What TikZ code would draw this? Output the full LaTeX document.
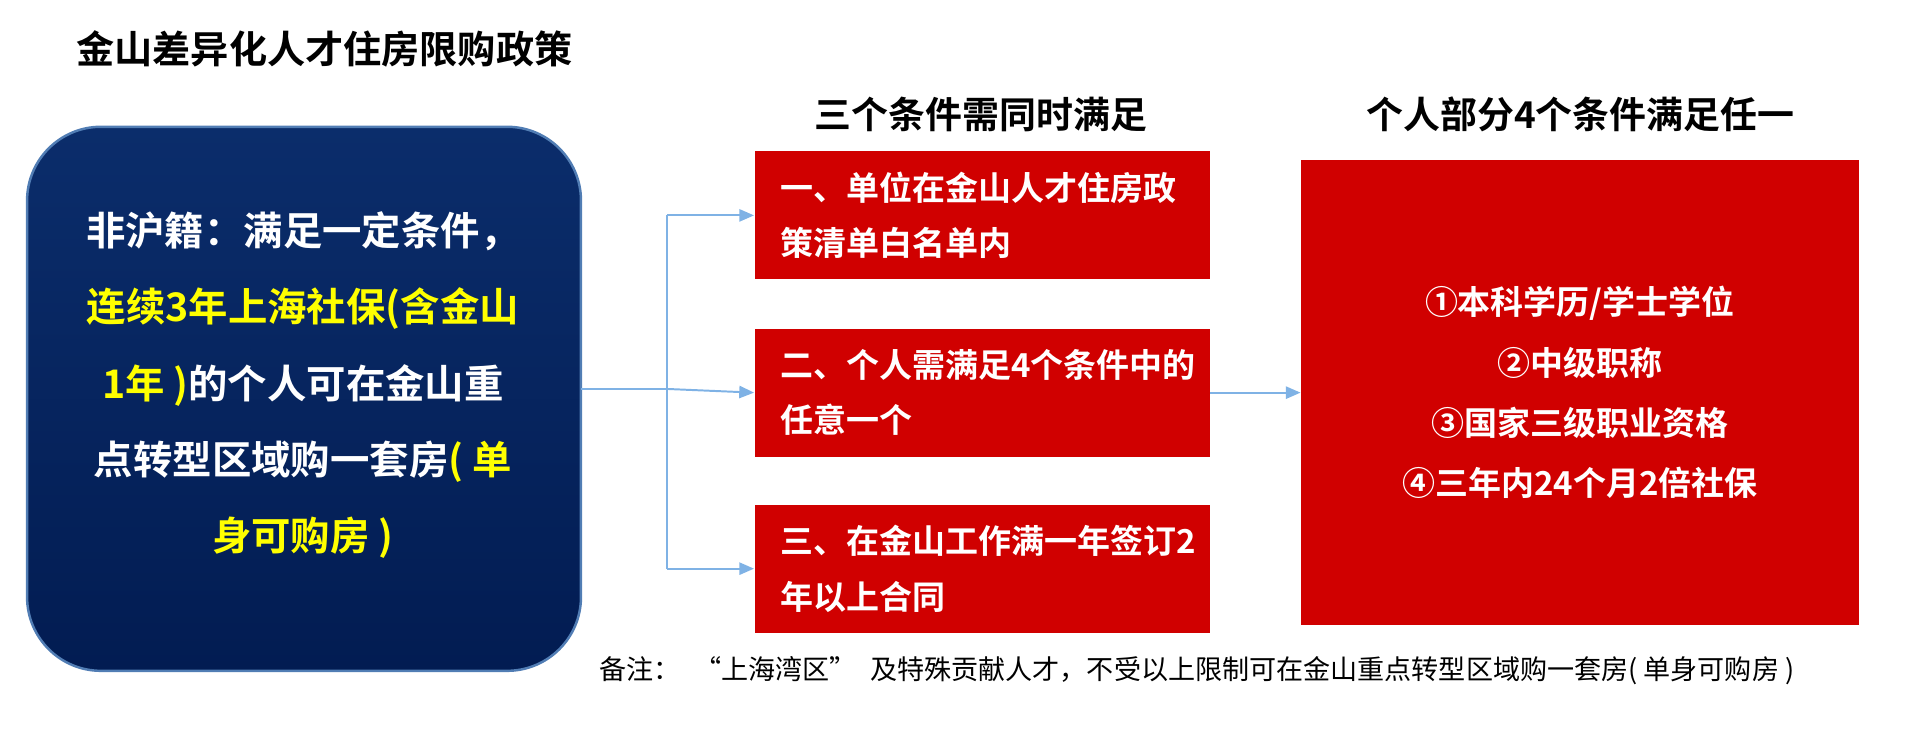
\documentclass[tikz,border=0pt]{standalone}
\usepackage{fontspec}
\setmainfont{Noto Sans CJK SC}[BoldFont={Noto Sans CJK SC Bold}]
\usetikzlibrary{arrows.meta}
\definecolor{navyA}{HTML}{0B2D6B}
\definecolor{navyB}{HTML}{021C52}
\definecolor{redbox}{HTML}{D00000}
\definecolor{lineblue}{HTML}{7FB2E5}
\definecolor{yel}{HTML}{FFFF00}
\begin{document}
\begin{tikzpicture}[x={(0.5pt,0)},y={(0,-0.5pt)},
  redb/.style={fill=redbox,draw=none,text=white,font=\bfseries\fontsize{13.4pt}{22.5pt}\selectfont},
  conn/.style={draw=lineblue,line width=0.8pt},
  arr/.style={conn,-{Triangle[length=6pt,width=5pt]}},
  hdr/.style={font=\bfseries\fontsize{15pt}{18pt}\selectfont}]
\useasboundingbox (0,0) rectangle (1568,604);
\node[anchor=west,font=\bfseries\fontsize{15.5pt}{18pt}\selectfont] (title) at (55,40) {金山差异化人才住房限购政策};
\shade[top color=navyA,bottom color=navyB,draw=lineblue!60!navyA,line width=1pt,rounded corners=30pt] (22,103) rectangle (472,545);
\coordinate (lb) at (472,316);
\node[text=white,align=center,font=\bfseries\fontsize{16pt}{31pt}\selectfont] (left) at (246,313)
 {非沪籍：满足一定条件，\\ \textcolor{yel}{连续3年上海社保(含金山}\\ \textcolor{yel}{1年 )}的个人可在金山重\\ 点转型区域购一套房\textcolor{yel}{( 单}\\ \textcolor{yel}{身可购房 )}};
\node[hdr] (h1) at (797,93) {三个条件需同时满足};
\node[hdr] (h2) at (1284,93) {个人部分4个条件满足任一};
\node[redb,minimum width=185pt,minimum height=52pt,text width=164pt,align=left] (r1) at (798,175) {一、单位在金山人才住房政\\策清单白名单内};
\node[redb,minimum width=185pt,minimum height=52pt,text width=164pt,align=left] (r2) at (798,319) {二、个人需满足4个条件中的\\任意一个};
\node[redb,minimum width=185pt,minimum height=52pt,text width=164pt,align=left] (r3) at (798,462) {三、在金山工作满一年签订2\\年以上合同};
\node[redb,minimum width=226.5pt,minimum height=189pt,align=center,font=\bfseries\fontsize{13.4pt}{24.5pt}\selectfont] (r4) at (1283.5,319) {①本科学历/学士学位\\②中级职称\\③国家三级职业资格\\④三年内24个月2倍社保};
\coordinate (j1) at (542,175);
\coordinate (j2) at (542,316);
\coordinate (j3) at (542,462);
\draw[conn] (lb) -- (j2);
\draw[conn] (j1) -- (j3);
\draw[arr] (j1) -- (r1.west);
\draw[arr] (j2) -- (r2.west);
\draw[arr] (j3) -- (r3.west);
\draw[arr] (r2.east) -- (r4.west);
\node[anchor=west,font=\fontsize{11pt}{13pt}\selectfont] (note) at (480,545) {备注：\enspace“上海湾区”\enspace 及特殊贡献人才，不受以上限制可在金山重点转型区域购一套房(\ 单身可购房 )};
\end{tikzpicture}
\end{document}
